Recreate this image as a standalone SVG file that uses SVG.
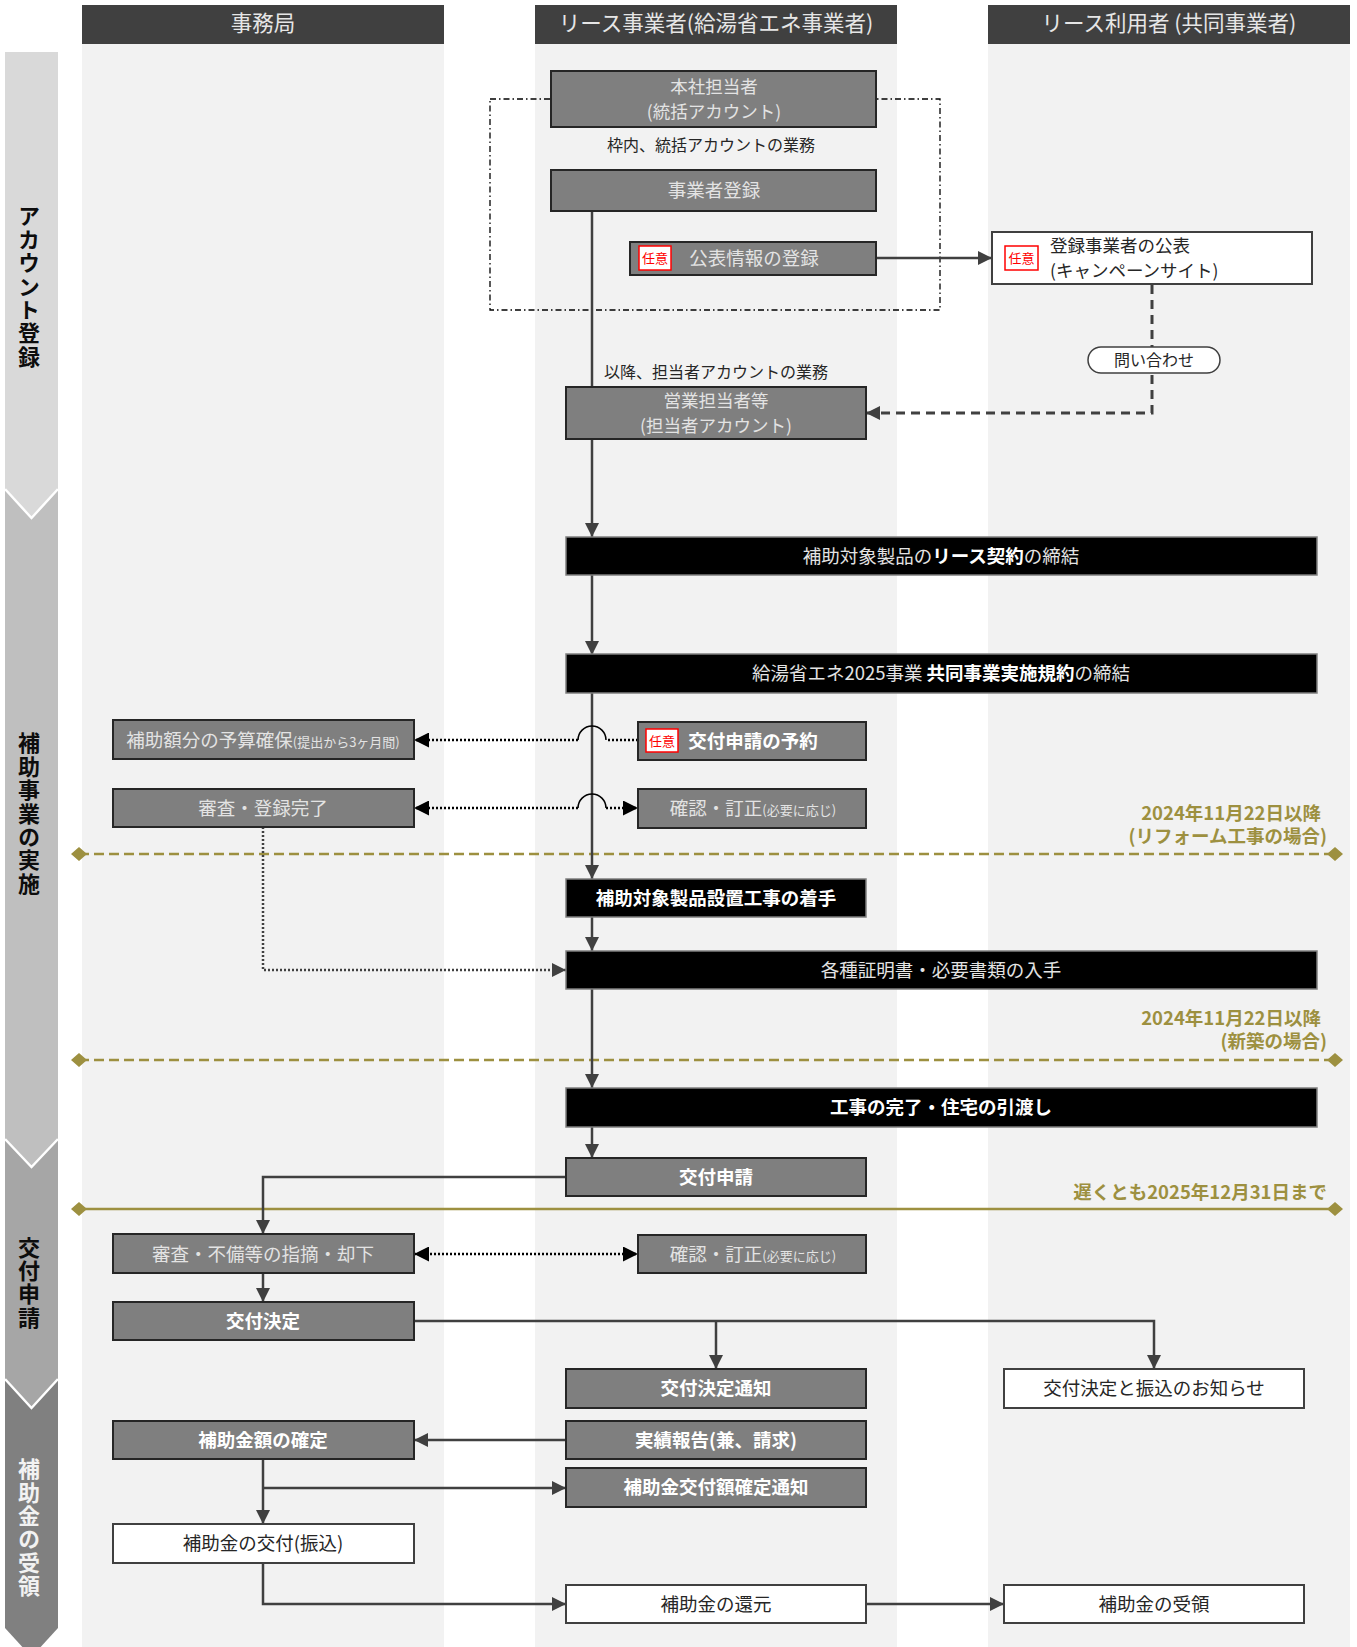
<svg xmlns="http://www.w3.org/2000/svg" width="1357" height="1647" viewBox="0 0 1357 1647">
<defs>
<style>
text{font-family:"Noto Sans CJK JP","Noto Sans",sans-serif}
.lane{fill:#f2f2f2}
.hdr{fill:#404040}
.hdrt{font-size:21.5px;fill:#e6e6e6;text-anchor:middle}
.stg{font-size:22px;font-weight:bold;text-anchor:middle;writing-mode:vertical-rl;letter-spacing:1.4px}
.g{fill:#7f7f7f;stroke:#262626;stroke-width:2}
.w{fill:#ffffff;stroke:#404040;stroke-width:2}
.b{fill:#000000;stroke:#7f7f7f;stroke-width:1.5}
.t{font-size:18.5px;fill:#e3e3e3;text-anchor:middle}
.t2{font-size:17.5px}
.tb{font-weight:bold;fill:#ffffff}
.td{fill:#262626}
.sm{font-size:13px}
.note{font-size:16px;fill:#262626;text-anchor:middle}
.bdg{fill:#ffffff;stroke:#ff0000;stroke-width:1.5}
.bdgt{font-size:13px;fill:#ff0000;text-anchor:middle}
.ln{stroke:#404040;stroke-width:2.5;fill:none}
.dash{stroke:#404040;stroke-width:3;stroke-dasharray:9 6;fill:none}
.dot{stroke:#000000;stroke-width:2.5;stroke-dasharray:2 2;fill:none}
.dotg{stroke:#404040;stroke-width:2.5;stroke-dasharray:2 2;fill:none}
.hop{stroke:#000000;stroke-width:1.5;fill:none}
.ol{stroke:#9d9040;stroke-width:2.5;fill:none}
.old{stroke-dasharray:10 5}
.olt{font-size:18.5px;font-weight:bold;fill:#9d9040;text-anchor:end}
.dia{fill:#9d9040}
</style>
<marker id="a" viewBox="0 0 14 14" refX="14" refY="7" markerWidth="14" markerHeight="14" markerUnits="userSpaceOnUse" orient="auto-start-reverse"><path d="M0,0 L14,7 L0,14 z" fill="#404040"/></marker>
<marker id="ab" viewBox="0 0 14 14" refX="14" refY="7" markerWidth="15" markerHeight="15" markerUnits="userSpaceOnUse" orient="auto-start-reverse"><path d="M0,0 L14,7 L0,14 z" fill="#000000"/></marker>
</defs>
<rect width="1357" height="1647" fill="#ffffff"/>
<g id="lanes">
<rect class="lane" x="82" y="44" width="362" height="1603"/>
<rect class="lane" x="535" y="44" width="362" height="1603"/>
<rect class="lane" x="988" y="44" width="362" height="1603"/>
<rect class="hdr" x="82" y="5" width="362" height="39"/>
<rect class="hdr" x="535" y="5" width="362" height="39"/>
<rect class="hdr" x="988" y="5" width="362" height="39"/>
<text class="hdrt" x="263" y="31">事務局</text>
<text class="hdrt" x="716" y="31">リース事業者(給湯省エネ事業者)</text>
<text class="hdrt" x="1169" y="31">リース利用者 (共同事業者)</text>
</g>
<g id="stages">
<polygon points="5,1378 58,1378 58,1628 31.5,1657 5,1628" fill="#808080"/>
<polygon points="5,1138 58,1138 58,1378 31.5,1407 5,1378" fill="#a6a6a6"/>
<polygon points="5,488 58,488 58,1138 31.5,1166 5,1138" fill="#bfbfbf"/>
<polygon points="5,52 58,52 58,488 31.5,517 5,488" fill="#d9d9d9"/>
<polyline points="5,489 31.5,518 58,489" fill="none" stroke="#ffffff" stroke-width="2.5"/>
<polyline points="5,1139 31.5,1167 58,1139" fill="none" stroke="#ffffff" stroke-width="2.5"/>
<polyline points="5,1379 31.5,1408 58,1379" fill="none" stroke="#ffffff" stroke-width="2.5"/>
<text class="stg" fill="#0d0d0d" x="29" y="287">アカウント登録</text>
<text class="stg" fill="#0d0d0d" x="29" y="814">補助事業の実施</text>
<text class="stg" fill="#0d0d0d" x="29" y="1283">交付申請</text>
<text class="stg" fill="#f2f2f2" x="29" y="1528">補助金の受領</text>
</g>
<g id="milestones">
<path class="ol old" d="M79 854 H1335"/>
<path class="dia" d="M71 854 L79 847 L87 854 L79 861 z M1327 854 L1335 847 L1343 854 L1335 861 z"/>
<text class="olt" x="1321" y="820">2024年11月22日以降</text>
<text class="olt" x="1327" y="843">(リフォーム工事の場合)</text>
<path class="ol old" d="M79 1060 H1335"/>
<path class="dia" d="M71 1060 L79 1053 L87 1060 L79 1067 z M1327 1060 L1335 1053 L1343 1060 L1335 1067 z"/>
<text class="olt" x="1321" y="1025">2024年11月22日以降</text>
<text class="olt" x="1327" y="1048">(新築の場合)</text>
<path class="ol" stroke-width="3" d="M79 1209 H1335"/>
<path class="dia" d="M71 1209 L79 1202 L87 1209 L79 1216 z M1327 1209 L1335 1202 L1343 1209 L1335 1216 z"/>
<text class="olt" x="1327" y="1199">遅くとも2025年12月31日まで</text>
</g>
<rect x="490" y="99" width="450" height="211" fill="none" stroke="#000000" stroke-width="1.3" stroke-dasharray="6 3 1.5 3"/>
<g id="connectors">
<path class="ln" d="M592 211 V387"/>
<path class="ln" d="M592 439 V537" marker-end="url(#a)"/>
<path class="ln" d="M592 575 V655" marker-end="url(#a)"/>
<path class="ln" d="M592 693 V879" marker-end="url(#a)"/>
<path class="ln" d="M592 917 V951" marker-end="url(#a)"/>
<path class="ln" d="M592 989 V1088" marker-end="url(#a)"/>
<path class="ln" d="M592 1127 V1158" marker-end="url(#a)"/>
<path class="ln" stroke-width="3" d="M876 258 H992" marker-end="url(#a)"/>
<path class="dash" d="M1152 285 V413 H866" marker-end="url(#a)"/>
<path class="dot" d="M638 740 H606"/>
<path class="hop" d="M606 740 A14 14 0 0 0 578 740"/>
<path class="dot" d="M578 740 H414" marker-end="url(#ab)"/>
<path class="dot" d="M606 808 H638" marker-end="url(#ab)"/>
<path class="hop" d="M606 808 A14 14 0 0 0 578 808"/>
<path class="dot" d="M578 808 H414" marker-end="url(#ab)"/>
<path class="dotg" d="M263 827 V970 H566" marker-end="url(#a)"/>
<path class="ln" d="M566 1177 H263 V1234" marker-end="url(#a)"/>
<path class="dot" d="M414 1254 H638" marker-start="url(#ab)" marker-end="url(#ab)"/>
<path class="ln" d="M263 1273 V1302" marker-end="url(#a)"/>
<path class="ln" d="M414 1321 H1154 V1369" marker-end="url(#a)"/>
<path class="ln" d="M716 1321 V1369" marker-end="url(#a)"/>
<path class="ln" d="M566 1440 H414" marker-end="url(#a)"/>
<path class="ln" d="M263 1459 V1524" marker-end="url(#a)"/>
<path class="ln" d="M263 1488 H566" marker-end="url(#a)"/>
<path class="ln" d="M263 1563 V1604 H566" marker-end="url(#a)"/>
<path class="ln" d="M866 1604 H1004" marker-end="url(#a)"/>
</g>
<g id="n-honsha"><rect class="g" x="551" y="71" width="325" height="56"/><text class="t t2" x="714" y="92.5">本社担当者<tspan x="714" dy="25.5">(統括アカウント)</tspan></text></g>
<text class="note" x="711" y="151">枠内、統括アカウントの業務</text>
<g id="n-jigyosha"><rect class="g" x="551" y="170" width="325" height="41"/><text class="t" x="714" y="197">事業者登録</text></g>
<g id="n-kohyo"><rect class="g" x="630" y="242" width="246" height="33"/><rect class="bdg" x="639" y="246" width="32" height="24"/><text class="bdgt" x="655" y="263">任意</text><text class="t" x="754" y="265">公表情報の登録</text></g>
<g id="n-toroku"><rect class="w" x="992" y="232" width="320" height="52"/><rect class="bdg" x="1005" y="246" width="33" height="24"/><text class="bdgt" x="1021.5" y="263">任意</text><text class="t t2 td" x="1050" y="251.5" style="text-anchor:start">登録事業者の公表<tspan x="1050" dy="25.5">(キャンペーンサイト)</tspan></text></g>
<g id="n-toiawase"><rect x="1088" y="347" width="132" height="26" rx="13" fill="#ffffff" stroke="#404040" stroke-width="1.5"/><text class="note" x="1154" y="365.5">問い合わせ</text></g>
<text class="note" x="716" y="377.5">以降、担当者アカウントの業務</text>
<g id="n-eigyo"><rect class="g" x="566" y="387" width="300" height="52"/><text class="t t2" x="716" y="406.5">営業担当者等<tspan x="716" dy="25.5">(担当者アカウント)</tspan></text></g>
<g id="n-lease"><rect class="b" x="566" y="537" width="751" height="38"/><text class="t" x="941" y="562.5">補助対象製品の<tspan class="tb">リース契約</tspan>の締結</text></g>
<g id="n-kiyaku"><rect class="b" x="566" y="654" width="751" height="39"/><text class="t" x="941" y="679.5">給湯省エネ2025事業 <tspan class="tb">共同事業実施規約</tspan>の締結</text></g>
<g id="n-yosan"><rect class="g" x="113" y="720" width="301" height="39"/><text class="t" x="263" y="746.5">補助額分の予算確保<tspan class="sm">(提出から3ヶ月間)</tspan></text></g>
<g id="n-yoyaku"><rect class="g" x="638" y="722" width="228" height="38"/><rect class="bdg" x="646" y="729" width="32" height="23"/><text class="bdgt" x="662" y="745.5">任意</text><text class="t tb" x="753" y="747.5">交付申請の予約</text></g>
<g id="n-shinsa1"><rect class="g" x="113" y="789" width="301" height="38"/><text class="t" x="263" y="814.5">審査・登録完了</text></g>
<g id="n-kakunin1"><rect class="g" x="638" y="789" width="228" height="39"/><text class="t" x="753" y="814.5">確認・訂正<tspan class="sm">(必要に応じ)</tspan></text></g>
<g id="n-chakushu"><rect class="b" x="566" y="879" width="300" height="38"/><text class="t tb" x="716" y="904.5">補助対象製品設置工事の着手</text></g>
<g id="n-shomei"><rect class="b" x="566" y="951" width="751" height="38"/><text class="t" x="941" y="976.5">各種証明書・必要書類の入手</text></g>
<g id="n-kanryo"><rect class="b" x="566" y="1088" width="751" height="39"/><text class="t tb" x="941" y="1113.5">工事の完了・住宅の引渡し</text></g>
<g id="n-shinsei"><rect class="g" x="566" y="1158" width="300" height="38"/><text class="t tb" x="716" y="1183.5">交付申請</text></g>
<g id="n-shinsa2"><rect class="g" x="113" y="1234" width="301" height="39"/><text class="t" x="263" y="1260.5">審査・不備等の指摘・却下</text></g>
<g id="n-kakunin2"><rect class="g" x="638" y="1235" width="228" height="38"/><text class="t" x="753" y="1260.5">確認・訂正<tspan class="sm">(必要に応じ)</tspan></text></g>
<g id="n-kettei"><rect class="g" x="113" y="1302" width="301" height="38"/><text class="t tb" x="263" y="1327.5">交付決定</text></g>
<g id="n-tsuchi"><rect class="g" x="566" y="1369" width="300" height="39"/><text class="t tb" x="716" y="1395">交付決定通知</text></g>
<g id="n-oshirase"><rect class="w" x="1004" y="1369" width="300" height="39"/><text class="t td" x="1154" y="1395">交付決定と振込のお知らせ</text></g>
<g id="n-jisseki"><rect class="g" x="566" y="1421" width="300" height="38"/><text class="t tb" x="716" y="1446.5">実績報告(兼、請求)</text></g>
<g id="n-kakutei"><rect class="g" x="113" y="1421" width="301" height="38"/><text class="t tb" x="263" y="1446.5">補助金額の確定</text></g>
<g id="n-kakuteitsuchi"><rect class="g" x="566" y="1468" width="300" height="39"/><text class="t tb" x="716" y="1494">補助金交付額確定通知</text></g>
<g id="n-kofu"><rect class="w" x="113" y="1524" width="301" height="39"/><text class="t td" x="263" y="1550">補助金の交付(振込)</text></g>
<g id="n-kangen"><rect class="w" x="566" y="1585" width="300" height="38"/><text class="t td" x="716" y="1610.5">補助金の還元</text></g>
<g id="n-juryo"><rect class="w" x="1004" y="1585" width="300" height="38"/><text class="t td" x="1154" y="1610.5">補助金の受領</text></g>
</svg>
